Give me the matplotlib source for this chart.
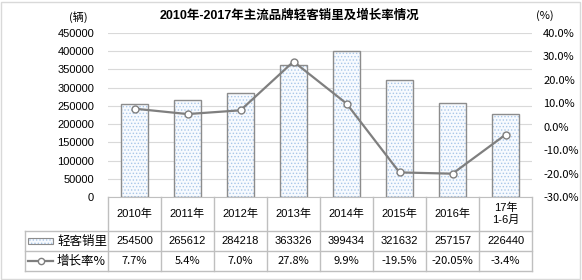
import numpy as np
import matplotlib.pyplot as plt
import matplotlib.transforms as mtransforms
from matplotlib.patches import Rectangle
from matplotlib.lines import Line2D

years = ["2010年", "2011年", "2012年", "2013年", "2014年", "2015年", "2016年", "17年\n1-6月"]
sales = [254500, 265612, 284218, 363326, 399434, 321632, 257157, 226440]
growth = [7.7, 5.4, 7.0, 27.8, 9.9, -19.5, -20.05, -3.4]
growth_labels = ["7.7%", "5.4%", "7.0%", "27.8%", "9.9%", "-19.5%", "-20.05%", "-3.4%"]
left_ticks = [0, 50000, 100000, 150000, 200000, 250000, 300000, 350000, 400000, 450000]
right_ticks = [-30, -20, -10, 0, 10, 20, 30, 40]

W, H = 582, 280
cjk = ['Liberation Sans', 'Noto Sans CJK SC', 'DejaVu Sans']
song = ['Noto Sans CJK SC', 'DejaVu Sans']
grid_c = '#d9d9d9'
tab_c = '#bfbfbf'
line_c = '#7f7f7f'
dot_c = '#a8c6e8'
plt.rcParams['hatch.linewidth'] = 0.6

fig = plt.figure(figsize=(W / 100, H / 100), dpi=100)
fig.patch.set_facecolor('white')
fig.add_artist(Rectangle((1 / W, 1 / H), 1 - 3 / W, 1 - 3 / H, transform=fig.transFigure,
                         fill=False, edgecolor='#d9d9d9', lw=1))

x0, x1, ytop, ybot = 108, 532, 33, 197
ax = fig.add_axes([x0 / W, (H - ybot) / H, (x1 - x0) / W, (ybot - ytop) / H])
x = np.arange(len(years))

ax.set_xlim(-0.5, len(years) - 0.5)
ax.set_ylim(0, 450000)
ax.set_yticks(left_ticks)
ax.set_yticklabels([str(v) for v in left_ticks], fontsize=8, family=cjk)
ax.tick_params(axis='y', length=0, pad=10)
ax.set_xticks([])
for s in ['top', 'right', 'left']:
    ax.spines[s].set_visible(False)
ax.spines['bottom'].set_color(tab_c)
ax.grid(axis='y', color=grid_c, lw=0.8)
ax.set_axisbelow(True)

# bars: dotted blue fill, then grey outline
ax.bar(x, sales, width=0.5, color='#f7fafe', edgecolor=dot_c, hatch='.....', lw=0, zorder=2)
ax.bar(x, sales, width=0.5, fill=False, edgecolor='#8c8c8c', lw=1, zorder=3)

ax2 = ax.twinx()
ax2.set_ylim(-30, 40)
ax2.set_yticks(right_ticks)
ax2.set_yticklabels(["%.1f%%" % v for v in right_ticks], fontsize=8, family=song)
ax2.tick_params(axis='y', length=0, pad=8)
for s in ax2.spines.values():
    s.set_visible(False)
ax2.plot(x, growth, color=line_c, lw=1.6, marker='o', ms=5, mfc='white', mec=line_c, mew=1, zorder=4)

fig.text(290 / W, 1 - 16 / H, "2010年-2017年主流品牌轻客销里及增长率情况", ha='center', va='center',
         fontsize=9, fontweight='bold', family=cjk)
fig.text(78 / W, 1 - 17 / H, "(辆)", ha='center', va='center', fontsize=8, family=song)
fig.text(545 / W, 1 - 16 / H, "(%)", ha='center', va='center', fontsize=8, family=song)

# data table below the axis, columns follow the category scale
tr = mtransforms.blended_transform_factory(ax.transData, fig.transFigure)
row_y = [197, 231, 251, 271]
fy = [1 - v / H for v in row_y]
leg_x = 25
fig.add_artist(Line2D([leg_x / W, x1 / W], [fy[1], fy[1]], transform=fig.transFigure, color=tab_c, lw=1))
fig.add_artist(Line2D([leg_x / W, x1 / W], [fy[2], fy[2]], transform=fig.transFigure, color=tab_c, lw=1))
fig.add_artist(Line2D([leg_x / W, x1 / W], [fy[3], fy[3]], transform=fig.transFigure, color=tab_c, lw=1))
fig.add_artist(Line2D([leg_x / W, leg_x / W], [fy[1], fy[3]], transform=fig.transFigure, color=tab_c, lw=1))
for i in range(len(years) + 1):
    fig.add_artist(Line2D([i - 0.5, i - 0.5], [fy[0], fy[3]], transform=tr, color=tab_c, lw=1))

for i in x:
    fig.text(i, (fy[0] + fy[1]) / 2, years[i], transform=tr, ha='center', va='center',
             fontsize=8, family=cjk, linespacing=1.3)
    fig.text(i, (fy[1] + fy[2]) / 2, str(sales[i]), transform=tr, ha='center', va='center',
             fontsize=8, family=cjk)
    fig.text(i, (fy[2] + fy[3]) / 2, growth_labels[i], transform=tr, ha='center', va='center',
             fontsize=8, family=song)

# legend keys in table
ky = (fy[1] + fy[2]) / 2
fig.add_artist(Rectangle((28 / W, ky - 3 / H), 25 / W, 6 / H, transform=fig.transFigure,
                         facecolor='#f7fafe', edgecolor=dot_c, hatch='.....', lw=0))
fig.add_artist(Rectangle((28 / W, ky - 3 / H), 25 / W, 6 / H, transform=fig.transFigure,
                         fill=False, edgecolor='#8c8c8c', lw=0.8))
fig.text(57 / W, ky, "轻客销里", ha='left', va='center', fontsize=9, family=song)
ky2 = (fy[2] + fy[3]) / 2
fig.add_artist(Line2D([28 / W, 53 / W], [ky2, ky2], transform=fig.transFigure, color=line_c, lw=1.6))
fig.add_artist(Line2D([40.5 / W], [ky2], transform=fig.transFigure, color=line_c, marker='o', ms=4.5,
                      mfc='white', mec=line_c, mew=1))
fig.text(57 / W, ky2, "增长率%", ha='left', va='center', fontsize=9, family=song)

fig.savefig("out.png", dpi=100)
